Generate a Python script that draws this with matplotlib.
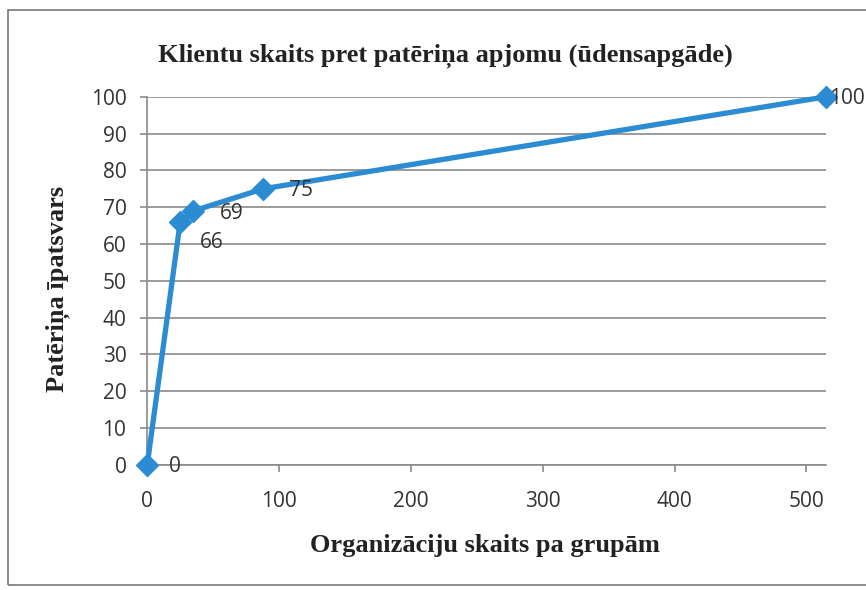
import matplotlib
matplotlib.use("Agg")
import matplotlib.pyplot as plt
from matplotlib.patches import Rectangle

# Data
org_counts = [0, 25, 35, 88, 515]
shares = [0, 66, 69, 75, 100]
point_labels = ["0", "66", "69", "75", "100"]
x_ticks = [0, 100, 200, 300, 400, 500]
y_ticks = [0, 10, 20, 30, 40, 50, 60, 70, 80, 90, 100]

title = "Klientu skaits pret patēriņa apjomu (ūdensapgāde)"
xlabel = "Organizāciju skaits pa grupām"
ylabel = "Patēriņa īpatsvars"

# label offsets in pixels (layout only)
label_offsets = [(22, -2), (20, -21), (27, -3), (26, -2), (3, -2)]

blue = "#2b8bd3"
grid_col = "#8a8a8a"
text_col = "#333333"

fig = plt.figure(figsize=(8.66, 5.90), dpi=100)
fig.patch.set_facecolor("white")
# outer frame
fig.patches.append(Rectangle((0.009, 0.008), 1.2, 0.975, transform=fig.transFigure,
                             fill=False, edgecolor="#777777", linewidth=1.2))

ax = fig.add_axes([0.170, 0.212, 0.784, 0.624])
ax.set_xlim(0, 515)
ax.set_ylim(0, 100)

ax.set_yticks(y_ticks)
ax.set_xticks(x_ticks)
ax.yaxis.grid(True, color=grid_col, linewidth=1.2)
ax.set_axisbelow(True)
for s in ["top", "right"]:
    ax.spines[s].set_visible(False)
ax.spines["left"].set_color(grid_col)
ax.spines["bottom"].set_color(grid_col)
ax.spines["left"].set_linewidth(1.2)
ax.spines["bottom"].set_linewidth(1.2)
ax.tick_params(axis="both", colors=grid_col, length=5, width=1.2,
               labelcolor=text_col, labelsize=15)
ax.tick_params(axis="y", pad=10)
ax.tick_params(axis="x", pad=14)
for lab in ax.get_xticklabels() + ax.get_yticklabels():
    lab.set_fontfamily("Open Sans")

ax.plot(org_counts, shares, color=blue, linewidth=3.8, marker="D",
        markersize=11, markerfacecolor=blue, markeredgecolor=blue,
        clip_on=False, zorder=5)

for x, y, t, (dx, dy) in zip(org_counts, shares, point_labels, label_offsets):
    ax.annotate(t, (x, y), xytext=(dx, dy), textcoords="offset pixels",
                ha="left", va="center", fontsize=15, color=text_col,
                fontfamily="Open Sans", annotation_clip=False, zorder=6)

fig.text(0.514, 0.905, title, ha="center", va="center", fontsize=19,
         fontweight="bold", fontfamily="Liberation Serif", color="#222222")
fig.text(0.560, 0.075, xlabel, ha="center", va="center", fontsize=19,
         fontweight="bold", fontfamily="Liberation Serif", color="#222222")
fig.text(0.067, 0.51, ylabel, ha="center", va="center", rotation=90, fontsize=19,
         fontweight="bold", fontfamily="Liberation Serif", color="#222222")

fig.savefig("out.png", dpi=100)
